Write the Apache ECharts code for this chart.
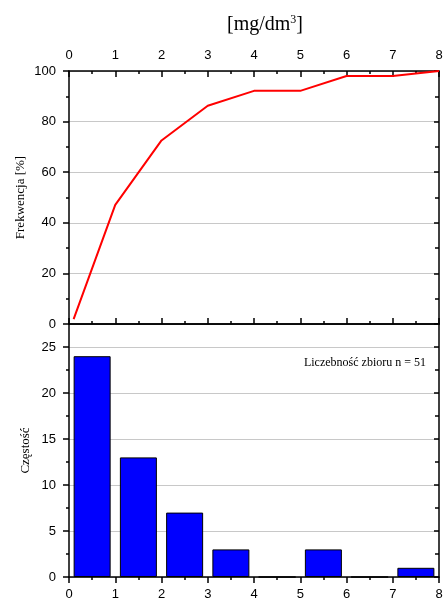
<!DOCTYPE html>
<html>
<head>
<meta charset="utf-8">
<script src="https://cdn.jsdelivr.net/npm/echarts@6/dist/echarts.min.js"></script>
<style>
  html, body { margin: 0; padding: 0; background: #fff; }
  #chart { width: 446px; height: 601px; }
</style>
</head>
<body>
<div id="chart"></div>
<script>
// Cumulative frequency curve (upper panel)
var cumX = [0.1, 1, 2, 3, 4, 5, 6, 7, 8];
var cumPct = [1.96, 47.06, 72.55, 86.27, 92.16, 92.16, 98.04, 98.04, 100];

// Histogram of counts per 1 mg/dm3 bin (lower panel)
var binCenters = [0.5, 1.5, 2.5, 3.5, 4.5, 5.5, 6.5, 7.5];
var binCounts = [24, 13, 7, 3, 0, 3, 0, 1];

// Tick label sets
var xTicks = [0, 1, 2, 3, 4, 5, 6, 7, 8];
var pctTicks = [0, 20, 40, 60, 80, 100];
var countTicks = [0, 5, 10, 15, 20, 25];

var sans = 'Liberation Sans';
var serif = 'Liberation Serif';
var axisLine = { show: true, onZero: false, lineStyle: { color: '#000', width: 1.5 } };
var grid = { show: true, lineStyle: { color: '#c8c8c8', width: 1 } };

var chart = echarts.init(document.getElementById('chart'), null, { renderer: 'canvas' });

chart.setOption({
  animation: false,
  backgroundColor: '#fff',
  title: {
    text: '[mg/dm{sup|3}]',
    left: 260, top: 9, textAlign: 'center',
    textStyle: {
      fontFamily: serif, fontSize: 20, fontWeight: 'normal', color: '#000',
      rich: { sup: { fontFamily: serif, fontSize: 12, verticalAlign: 'top', padding: [0, 0, 10, 0] } }
    }
  },
  graphic: [{
    type: 'text', right: 20, top: 357,
    style: { text: 'Liczebność zbioru n = 51', font: '12px "Liberation Serif"', fill: '#000' }
  }],
  grid: [
    { left: 69, right: 7, top: 71, height: 253, containLabel: false },
    { left: 69, right: 7, top: 324, bottom: 24, containLabel: false }
  ],
  xAxis: [
    { // upper panel, top axis with labels
      gridIndex: 0, type: 'value', position: 'top', min: xTicks[0], max: xTicks[xTicks.length - 1], interval: 1,
      axisLine: axisLine,
      axisTick: { show: true, inside: true, length: 6, lineStyle: { color: '#000', width: 1.5 } },
      minorTick: { show: true, splitNumber: 2, length: 3, lineStyle: { color: '#000', width: 1.5 } },
      axisLabel: { show: true, margin: 9, fontFamily: sans, fontSize: 13, color: '#000' },
      splitLine: { show: false }
    },
    { // upper panel, bottom axis
      gridIndex: 0, type: 'value', position: 'bottom', min: 0, max: 8, interval: 1,
      axisLine: axisLine,
      axisTick: { show: true, inside: true, length: 6, lineStyle: { color: '#000', width: 1.5 } },
      minorTick: { show: true, splitNumber: 2, length: 3, lineStyle: { color: '#000', width: 1.5 } },
      axisLabel: { show: false },
      splitLine: { show: false }
    },
    { // lower panel, bottom axis with labels
      gridIndex: 1, type: 'value', position: 'bottom', min: 0, max: 8, interval: 1,
      axisLine: axisLine,
      axisTick: { show: true, inside: false, length: 6, lineStyle: { color: '#000', width: 1.5 } },
      minorTick: { show: true, splitNumber: 2, length: 3, lineStyle: { color: '#000', width: 1.5 } },
      axisLabel: { show: true, margin: 11, fontFamily: sans, fontSize: 13, color: '#000' },
      splitLine: { show: false }
    },
    { // lower panel, top border
      gridIndex: 1, type: 'value', position: 'top', min: 0, max: 8, interval: 1,
      axisLine: axisLine,
      axisTick: { show: false }, axisLabel: { show: false }, splitLine: { show: false }
    }
  ],
  yAxis: [
    {
      gridIndex: 0, type: 'value', position: 'left', min: pctTicks[0], max: pctTicks[pctTicks.length - 1], interval: 20,
      name: 'Frekwencja [%]', nameLocation: 'middle', nameGap: 42, nameRotate: 90, nameMoveOverlap: false,
      nameTextStyle: { fontFamily: serif, fontSize: 13, color: '#000' },
      axisLine: axisLine,
      axisTick: { show: true, inside: false, length: 6, lineStyle: { color: '#000', width: 1.5 } },
      minorTick: { show: true, splitNumber: 2, length: 3, lineStyle: { color: '#000', width: 1.5 } },
      axisLabel: { show: true, margin: 13, fontFamily: sans, fontSize: 13, color: '#000' },
      splitLine: grid
    },
    {
      gridIndex: 0, type: 'value', position: 'right', min: 0, max: 100, interval: 20,
      axisLine: axisLine,
      axisTick: { show: true, inside: true, length: 5, lineStyle: { color: '#000', width: 1.5 } },
      minorTick: { show: true, splitNumber: 2, length: 4, lineStyle: { color: '#000', width: 1.5 } },
      axisLabel: { show: false }, splitLine: { show: false }
    },
    {
      gridIndex: 1, type: 'value', position: 'left', min: countTicks[0], max: 27.5, interval: 5,
      name: 'Częstość', nameLocation: 'middle', nameGap: 37, nameRotate: 90, nameMoveOverlap: false,
      nameTextStyle: { fontFamily: serif, fontSize: 13, color: '#000' },
      axisLine: axisLine,
      axisTick: { show: true, inside: false, length: 6, lineStyle: { color: '#000', width: 1.5 } },
      minorTick: { show: true, splitNumber: 2, length: 3, lineStyle: { color: '#000', width: 1.5 } },
      axisLabel: { show: true, showMaxLabel: false, margin: 13, fontFamily: sans, fontSize: 13, color: '#000' },
      splitLine: grid
    },
    {
      gridIndex: 1, type: 'value', position: 'right', min: 0, max: 27.5, interval: 5,
      axisLine: axisLine,
      axisTick: { show: true, inside: true, length: 5, lineStyle: { color: '#000', width: 1.5 } },
      minorTick: { show: true, splitNumber: 2, length: 4, lineStyle: { color: '#000', width: 1.5 } },
      axisLabel: { show: false }, splitLine: { show: false }
    }
  ],
  series: [
    {
      type: 'line', xAxisIndex: 0, yAxisIndex: 0,
      data: cumX.map(function (x, i) { return [x, cumPct[i]]; }),
      symbol: 'none', lineStyle: { color: '#ff0000', width: 2 }, z: 5
    },
    {
      type: 'bar', xAxisIndex: 2, yAxisIndex: 2,
      data: binCenters.map(function (x, i) { return [x, binCounts[i]]; }),
      barWidth: 37,
      itemStyle: { color: '#0000ff', borderColor: '#000', borderWidth: 1 }
    }
  ]
});
</script>
</body>
</html>
